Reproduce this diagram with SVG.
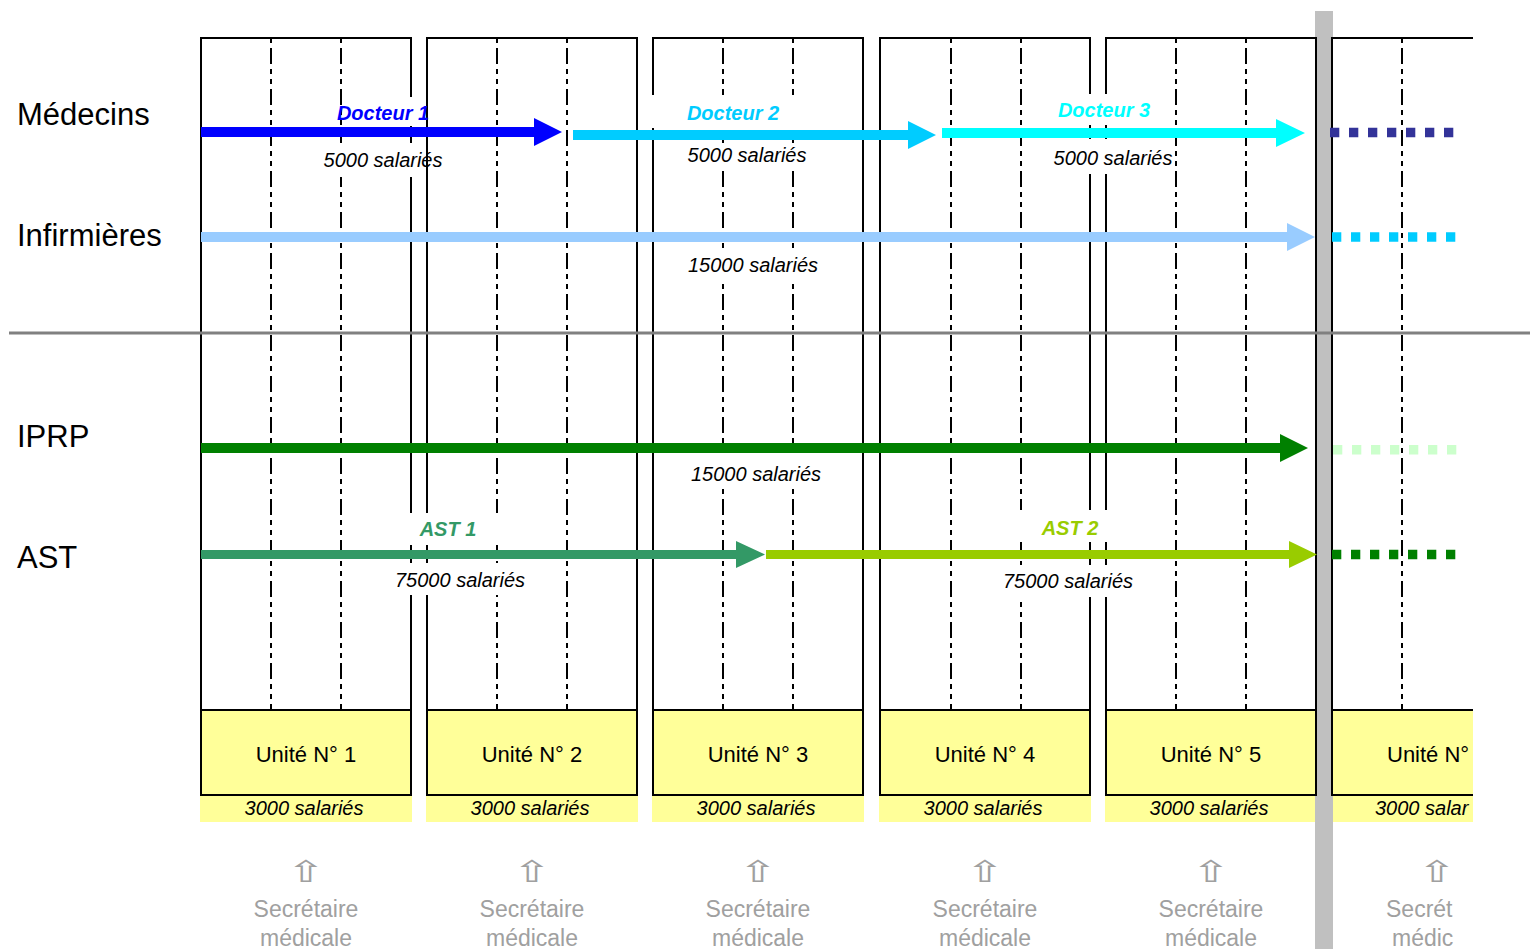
<svg xmlns="http://www.w3.org/2000/svg" width="1530" height="949" viewBox="0 0 1530 949">
<style>
.frame{fill:none;stroke:#000;stroke-width:2}
.ln{stroke:#000;stroke-width:2;fill:none}
.dash{stroke:#000;stroke-width:2;stroke-dasharray:16 5 5 5 5 5;stroke-dashoffset:31}
.band{fill:#ffff99}
.lbl{font-family:"Liberation Sans",Arial,sans-serif;font-size:31px;fill:#000}
.unit{font-family:"Liberation Sans",Arial,sans-serif;font-size:22px;fill:#000;text-anchor:middle}
.sal{font-family:"Liberation Sans",Arial,sans-serif;font-size:20px;font-style:italic;fill:#000;text-anchor:middle}
.name{font-family:"Liberation Sans",Arial,sans-serif;font-size:20px;font-style:italic;font-weight:bold;text-anchor:middle}
.sec{font-family:"Liberation Sans",Arial,sans-serif;font-size:23px;fill:#a0a0a0;text-anchor:middle}
.up{font-family:"DejaVu Sans",sans-serif;font-size:30px;fill:#a0a0a0;text-anchor:middle}
.mask{fill:#fff}
.dot{stroke-width:9.5;stroke-dasharray:9.3 9.7;fill:none}
</style>

<rect id="bar" x="1315" y="11" width="18" height="938" fill="#c0c0c0"/>

<g id="unit1">
  <rect class="band" x="200" y="710" width="212" height="112"/>
  <rect class="frame" x="201" y="38" width="210" height="757"/>
  <line class="ln" x1="201" y1="710" x2="411" y2="710"/>
  <line class="dash" x1="271" y1="38" x2="271" y2="710"/>
  <line class="dash" x1="341" y1="38" x2="341" y2="710"/>
  <text class="unit" x="306" y="762">Unité N° 1</text>
  <text class="sal" x="304" y="815">3000 salariés</text>
  <text class="up" transform="translate(306,882) scale(1.55,1)">⇧</text>
  <text class="sec" x="306" y="917">Secrétaire</text>
  <text class="sec" x="306" y="946">médicale</text>
</g>
<g id="unit2">
  <rect class="band" x="426" y="710" width="212" height="112"/>
  <rect class="frame" x="427" y="38" width="210" height="757"/>
  <line class="ln" x1="427" y1="710" x2="637" y2="710"/>
  <line class="dash" x1="497" y1="38" x2="497" y2="710"/>
  <line class="dash" x1="567" y1="38" x2="567" y2="710"/>
  <text class="unit" x="532" y="762">Unité N° 2</text>
  <text class="sal" x="530" y="815">3000 salariés</text>
  <text class="up" transform="translate(532,882) scale(1.55,1)">⇧</text>
  <text class="sec" x="532" y="917">Secrétaire</text>
  <text class="sec" x="532" y="946">médicale</text>
</g>
<g id="unit3">
  <rect class="band" x="652" y="710" width="212" height="112"/>
  <rect class="frame" x="653" y="38" width="210" height="757"/>
  <line class="ln" x1="653" y1="710" x2="863" y2="710"/>
  <line class="dash" x1="723" y1="38" x2="723" y2="710"/>
  <line class="dash" x1="793" y1="38" x2="793" y2="710"/>
  <text class="unit" x="758" y="762">Unité N° 3</text>
  <text class="sal" x="756" y="815">3000 salariés</text>
  <text class="up" transform="translate(758,882) scale(1.55,1)">⇧</text>
  <text class="sec" x="758" y="917">Secrétaire</text>
  <text class="sec" x="758" y="946">médicale</text>
</g>
<g id="unit4">
  <rect class="band" x="879" y="710" width="212" height="112"/>
  <rect class="frame" x="880" y="38" width="210" height="757"/>
  <line class="ln" x1="880" y1="710" x2="1090" y2="710"/>
  <line class="dash" x1="951" y1="38" x2="951" y2="710"/>
  <line class="dash" x1="1021" y1="38" x2="1021" y2="710"/>
  <text class="unit" x="985" y="762">Unité N° 4</text>
  <text class="sal" x="983" y="815">3000 salariés</text>
  <text class="up" transform="translate(985,882) scale(1.55,1)">⇧</text>
  <text class="sec" x="985" y="917">Secrétaire</text>
  <text class="sec" x="985" y="946">médicale</text>
</g>
<g id="unit5">
  <rect class="band" x="1105" y="710" width="210" height="112"/>
  <rect class="frame" x="1106" y="38" width="210" height="757"/>
  <line class="ln" x1="1106" y1="710" x2="1316" y2="710"/>
  <line class="dash" x1="1176" y1="38" x2="1176" y2="710"/>
  <line class="dash" x1="1246" y1="38" x2="1246" y2="710"/>
  <text class="unit" x="1211" y="762">Unité N° 5</text>
  <text class="sal" x="1209" y="815">3000 salariés</text>
  <text class="up" transform="translate(1211,882) scale(1.55,1)">⇧</text>
  <text class="sec" x="1211" y="917">Secrétaire</text>
  <text class="sec" x="1211" y="946">médicale</text>
</g>
<g id="unit6">
  <rect class="band" x="1333" y="710" width="140" height="112"/>
  <path class="ln" d="M1473,38 H1332 V795 H1473 M1332,710 H1473"/>
  <line class="dash" x1="1402" y1="38" x2="1402" y2="710"/>
  <text class="unit" x="1387" y="762" style="text-anchor:start">Unité N°</text>
  <text class="sal" x="1375" y="815" style="text-anchor:start">3000 salar</text>
  <text class="up" transform="translate(1437,882) scale(1.55,1)">⇧</text>
  <text class="sec" x="1386" y="917" style="text-anchor:start">Secrét</text>
  <text class="sec" x="1392" y="946" style="text-anchor:start">médic</text>
</g>

<line id="separator" x1="9" y1="333" x2="1530" y2="333" stroke="#808080" stroke-width="3"/>

<g id="labels">
  <text class="lbl" x="17" y="125">Médecins</text>
  <text class="lbl" x="17" y="246">Infirmières</text>
  <text class="lbl" x="17" y="447">IPRP</text>
  <text class="lbl" x="17" y="568">AST</text>
</g>

<g id="label-masks">
  <rect class="mask" x="346" y="97" width="78" height="29"/>
  <rect class="mask" x="322" y="143" width="98" height="34"/>
  <rect class="mask" x="650" y="95" width="150" height="33"/>
  <rect class="mask" x="700" y="143" width="100" height="27"/>
  <rect class="mask" x="1060" y="94" width="90" height="31"/>
  <rect class="mask" x="1060" y="139" width="90" height="35"/>
  <rect class="mask" x="700" y="252" width="100" height="28"/>
  <rect class="mask" x="700" y="455" width="100" height="32"/>
  <rect class="mask" x="405" y="513" width="95" height="32"/>
  <rect class="mask" x="405" y="563" width="95" height="32"/>
  <rect class="mask" x="1015" y="510" width="95" height="32"/>
  <rect class="mask" x="1015" y="565" width="95" height="32"/>
</g>

<g id="connectors">
  <path id="docteur1" fill="#0000ff" d="M201,127 H534 V118 L562,132 L534,146 V137 H201 Z"/>
  <path id="docteur2" fill="#00ccff" d="M573,130 H908 V121 L936,135 L908,149 V140 H573 Z"/>
  <path id="docteur3" fill="#00ffff" d="M942,128 H1276 V119 L1305,133 L1276,147 V138 H942 Z"/>
  <path id="infirmieres" fill="#99ccff" d="M201,232 H1287 V223 L1315,237 L1287,251 V242 H201 Z"/>
  <path id="iprp" fill="#008000" d="M201,443 H1280 V434 L1308,448 L1280,462 V453 H201 Z"/>
  <path id="ast1" fill="#339966" d="M201,550 H736 V541 L765,554.5 L736,568 V559 H201 Z"/>
  <path id="ast2" fill="#99cc00" d="M766,550 H1289 V541 L1317,554.5 L1289,568 V559 H766 Z"/>
  <line class="dot" stroke="#333399" x1="1330" y1="132.5" x2="1455" y2="132.5"/>
  <line class="dot" stroke="#00ccff" x1="1332" y1="237" x2="1457" y2="237"/>
  <line class="dot" stroke="#ccffcc" x1="1333" y1="449.7" x2="1458" y2="449.7"/>
  <line class="dot" stroke="#008000" x1="1332" y1="554.5" x2="1457" y2="554.5"/>
</g>

<g id="arrow-labels">
  <text class="name" fill="#0000ff" x="383" y="120">Docteur 1</text>
  <text class="sal" x="383" y="167">5000 salariés</text>
  <text class="name" fill="#00ccff" x="733" y="120">Docteur 2</text>
  <text class="sal" x="747" y="162">5000 salariés</text>
  <text class="name" fill="#00ffff" x="1104" y="117">Docteur 3</text>
  <text class="sal" x="1113" y="165">5000 salariés</text>
  <text class="sal" x="753" y="272">15000 salariés</text>
  <text class="sal" x="756" y="481">15000 salariés</text>
  <text class="name" fill="#339966" x="448" y="536">AST 1</text>
  <text class="sal" x="460" y="587">75000 salariés</text>
  <text class="name" fill="#99cc00" x="1070" y="535">AST 2</text>
  <text class="sal" x="1068" y="588">75000 salariés</text>
</g>
</svg>
